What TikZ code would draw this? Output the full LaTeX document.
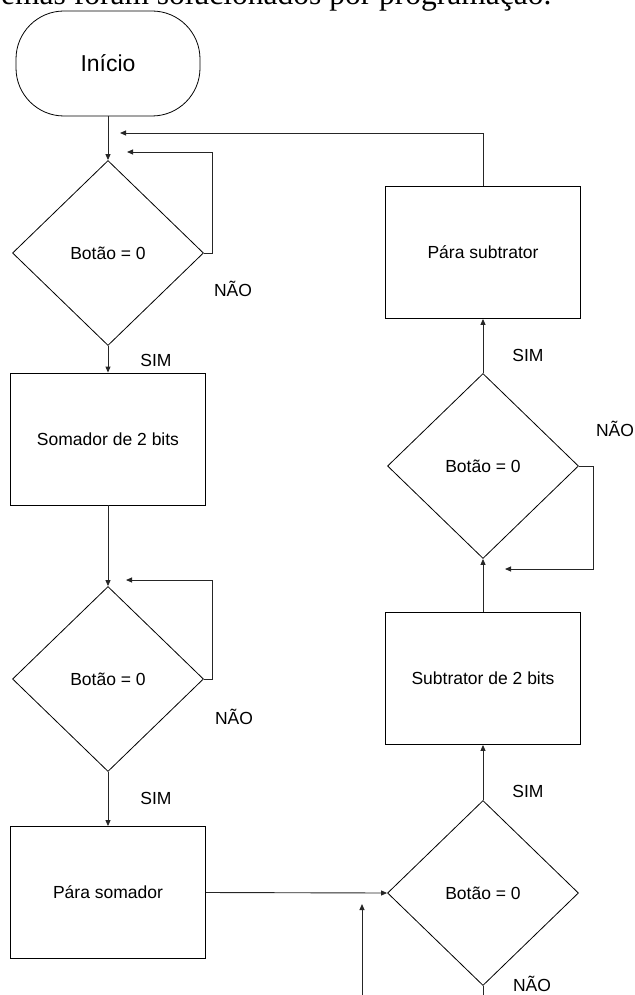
\documentclass[tikz,border=0pt]{standalone}
\usepackage{fontspec}
\setmainfont{Liberation Sans}
\newfontfamily\serifbody{Liberation Serif}
\usetikzlibrary{shapes.geometric,arrows.meta}
\tikzset{
  conn/.style={line width=0.9pt, draw=black!85},
  arr/.style={conn, -{Triangle[length=6pt,width=5pt]}},
  dec/.style={diamond, draw, line width=0.8pt, minimum width=191pt, minimum height=185pt, inner sep=0pt, font=\fontsize{17.5}{20}\selectfont},
  proc/.style={rectangle, draw, line width=0.8pt, minimum width=195pt, minimum height=132pt, inner sep=0pt, font=\fontsize{17.5}{20}\selectfont},
  lab/.style={inner sep=0pt, font=\fontsize{17.5}{20}\selectfont},
}
\begin{document}
\begin{tikzpicture}[x=1pt,y=-1pt]
\clip (0,0) rectangle (634,995);
\useasboundingbox (0,0) rectangle (634,995);

% cropped line of body text at the top
\node[anchor=base west, inner sep=0pt, font=\serifbody\fontsize{31.5}{36}\selectfont] (toptext) at (1,5) {emas foram solucionados por programação.};

% start terminal
\node[rectangle, draw, line width=0.8pt, rounded corners=48pt, minimum width=184pt, minimum height=105pt, inner sep=0pt, font=\fontsize{23}{26}\selectfont] (start) at (108,63.5) {Início};

% left column
\node[dec] (d1) at (108,253) {Botão = 0};
\node[proc] (som) at (108,439) {Somador de 2 bits};
\node[dec] (d2) at (108,679) {Botão = 0};
\node[proc] (pso) at (108,892.5) {Pára somador};

% right column
\node[dec] (d4) at (483,893) {Botão = 0};
\node[proc] (sub) at (483,678.5) {Subtrator de 2 bits};
\node[dec] (d3) at (483,466) {Botão = 0};
\node[proc] (psu) at (483,252.5) {Pára subtrator};

% labels
\node[lab] (n1) at (233,289) {NÃO};
\node[lab] (s1) at (156,360) {SIM};
\node[lab] (n2) at (234,717) {NÃO};
\node[lab] (s2) at (156,798) {SIM};
\node[lab] (s4) at (528,791) {SIM};
\node[lab] (n4) at (532,984) {NÃO};
\node[lab] (s3) at (528,355) {SIM};
\node[lab] (n3) at (615,429) {NÃO};

% free ends
\coordinate (r1) at (120,133);
\coordinate (r2) at (127,152);
\coordinate (r3) at (126,580);
\coordinate (r4) at (505,569);
\coordinate (b1) at (483,1000);
\coordinate (b2) at (362,1000);
\coordinate (b3) at (362,904);

% connectors
\draw[arr] (start.south) -- (d1.north);
\draw[arr] (d1.south) -- (som.north);
\draw[arr] (som.south) -- (d2.north);
\draw[arr] (d2.south) -- (pso.north);
\draw[arr] (pso.east) -- (d4.west);
\draw[arr] (d4.north) -- (sub.south);
\draw[arr] (sub.north) -- (d3.south);
\draw[arr] (d3.north) -- (psu.south);
\draw[arr] (psu.north) |- (r1);
\draw[arr] (d1.east) -- ++(9,0) |- (r2);
\draw[arr] (d2.east) -- ++(9,0) |- (r3);
\draw[arr] (d3.east) -- ++(15,0) |- (r4);
\draw[conn] (d4.south) -- (b1);
\draw[arr] (b2) -- (b3);
\end{tikzpicture}
\end{document}
